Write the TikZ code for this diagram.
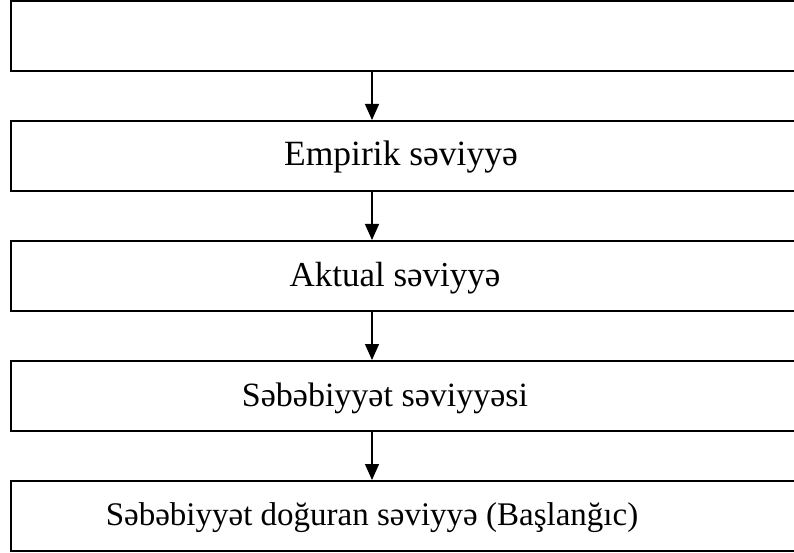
\documentclass[tikz,border=0pt]{standalone}
\usepackage{fontspec}
\setmainfont{Liberation Serif}
\usetikzlibrary{arrows.meta,positioning,calc}

\begin{document}
\begin{tikzpicture}[x=1pt,y=-1pt,
  levelbox/.style={draw=black,line width=2pt,minimum width=800pt,minimum height=70pt,inner sep=0pt},
  leveltext/.style={inner sep=0pt,anchor=base},
  flow/.style={line width=1.3pt,-{Triangle[length=16pt,width=14pt]}}]
\useasboundingbox (0,0) rectangle (794,553);
\clip (0,0) rectangle (794,553);

% boxes
\node[levelbox] (b1) at (411,36) {};
\node[levelbox] (b2) at (411,156) {};
\node[levelbox] (b3) at (411,276) {};
\node[levelbox] (b4) at (411,396) {};
\node[levelbox] (b5) at (411,516) {};

% labels
\node[leveltext,font=\fontsize{35.5}{40}\selectfont] (l2) at (401,166) {Empirik səviyyə};
\node[leveltext,font=\fontsize{35}{40}\selectfont] (l3) at (395,286) {Aktual səviyyə};
\node[leveltext,font=\fontsize{34}{40}\selectfont] (l4) at (385,406) {Səbəbiyyət səviyyəsi};
\node[leveltext,font=\fontsize{33}{40}\selectfont] (l5) at (372,525) {Səbəbiyyət doğuran səviyyə (Başlanğıc)};

% arrows
\coordinate (ax) at (372,0);
\draw[flow] (b1.south -| ax) -- (b2.north -| ax);
\draw[flow] (b2.south -| ax) -- (b3.north -| ax);
\draw[flow] (b3.south -| ax) -- (b4.north -| ax);
\draw[flow] (b4.south -| ax) -- (b5.north -| ax);
\end{tikzpicture}
\end{document}
